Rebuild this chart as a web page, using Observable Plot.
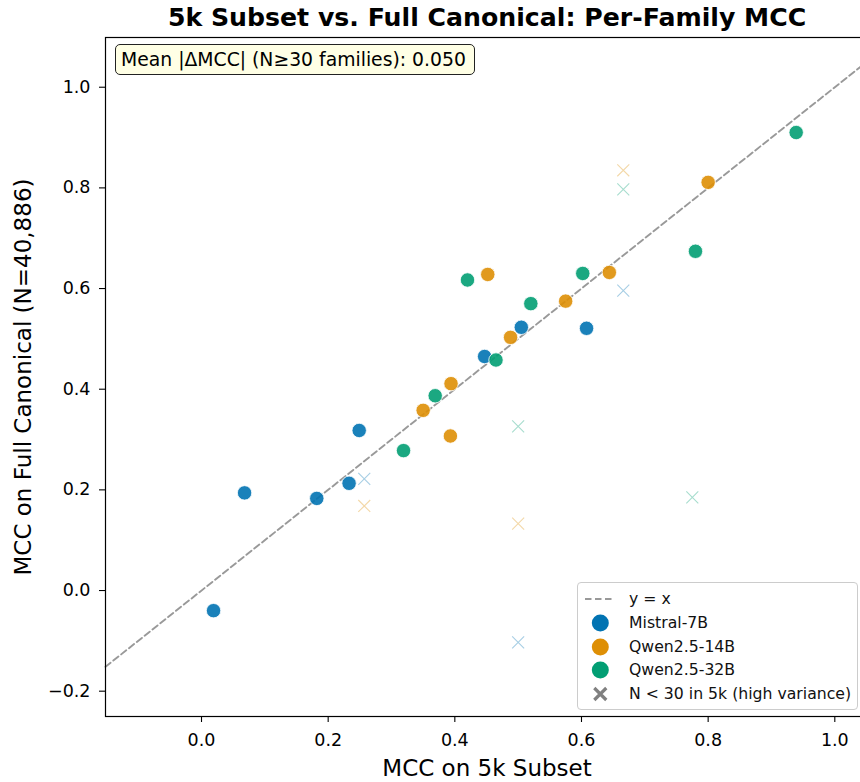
<!DOCTYPE html>
<html>
<head>
<meta charset="utf-8">
<script src="https://cdn.jsdelivr.net/npm/d3@7"></script>
<script src="https://cdn.jsdelivr.net/npm/@observablehq/plot@0.6"></script>
<style>
  html, body { margin: 0; padding: 0; background: white; overflow: hidden; }
  #wrap { position: relative; width: 860px; height: 782px; font-family: "DejaVu Sans", sans-serif; }
  #note { position: absolute; left: 115px; top: 44px; width: 353px; height: 29px;
          background: rgba(255,255,224,0.85); border: 1.3px solid #222; border-radius: 5px;
          font-size: 18.8px; line-height: 29px; padding-left: 5px; box-sizing: content-box; white-space: nowrap; }
  #legend { position: absolute; left: 577px; top: 582px; width: 279px; height: 126px;
            background: rgba(255,255,255,0.8); border: 1px solid #cccccc; border-radius: 4px; font-size: 15.7px; }
  .row { position: absolute; left: 0; height: 24px; width: 279px; }
  .row svg { position: absolute; left: 0; top: 0; }
  .row span { position: absolute; left: 51px; top: 0; line-height: 24px; white-space: nowrap; color: #111; }
</style>
</head>
<body>
<div id="wrap"></div>
<script>
// ---- data ----
const models = ["Mistral-7B", "Qwen2.5-14B", "Qwen2.5-32B"];
const colors = ["#0173B2", "#DE8F05", "#029E73"];

// families with N >= 30 in the 5k subset
const mistralX = [0.019, 0.068, 0.182, 0.233, 0.249, 0.447, 0.505, 0.608];
const mistralY = [-0.040, 0.194, 0.183, 0.213, 0.318, 0.465, 0.523, 0.521];
const qwen14X  = [0.350, 0.394, 0.393, 0.452, 0.488, 0.575, 0.644, 0.800];
const qwen14Y  = [0.358, 0.411, 0.307, 0.628, 0.503, 0.575, 0.632, 0.811];
const qwen32X  = [0.319, 0.369, 0.420, 0.465, 0.520, 0.602, 0.780, 0.939];
const qwen32Y  = [0.278, 0.387, 0.617, 0.458, 0.570, 0.630, 0.674, 0.910];

// families with N < 30 in the 5k subset (high variance)
const mistralLowX = [0.257, 0.666, 0.500];
const mistralLowY = [0.222, 0.596, -0.103];
const qwen14LowX  = [0.257, 0.666, 0.500];
const qwen14LowY  = [0.168, 0.835, 0.133];
const qwen32LowX  = [0.666, 0.500, 0.775];
const qwen32LowY  = [0.797, 0.326, 0.185];

const xTicks = [0.0, 0.2, 0.4, 0.6, 0.8, 1.0];
const yTicks = [-0.2, 0.0, 0.2, 0.4, 0.6, 0.8, 1.0];
const xDomain = [-0.1516, 1.0532];
const yDomain = [-0.2503, 1.0988];

const titleText = "5k Subset vs. Full Canonical: Per-Family MCC";
const xLabel = "MCC on 5k Subset";
const yLabel = "MCC on Full Canonical (N=40,886)";
const noteText = "Mean |ΔMCC| (N≥30 families): 0.050";
const diagLabel = "y = x";
const lowLabel = "N < 30 in 5k (high variance)";

// ---- build tables ----
function rows(model, xs, ys) { return xs.map((x, i) => ({model, x, y: ys[i]})); }
const main = [
  ...rows(models[0], mistralX, mistralY),
  ...rows(models[1], qwen14X, qwen14Y),
  ...rows(models[2], qwen32X, qwen32Y)
];
const low = [
  ...rows(models[0], mistralLowX, mistralLowY),
  ...rows(models[1], qwen14LowX, qwen14LowY),
  ...rows(models[2], qwen32LowX, qwen32LowY)
];

const fmt = d3.format(".1f");

const chart = Plot.plot({
  width: 860,
  height: 782,
  marginLeft: 105,
  marginRight: -8,
  marginTop: 37,
  marginBottom: 66,
  x: {domain: xDomain, axis: null},
  y: {domain: yDomain, axis: null},
  color: {domain: models, range: colors},
  style: {fontFamily: "DejaVu Sans", fontSize: "17.5px", background: "white", overflow: "hidden", color: "black"},
  marks: [
    Plot.line(xDomain, {x: d => d, y: d => d, stroke: "#999999", strokeWidth: 1.9, strokeDasharray: "6.5,3.5"}),
    Plot.dot(low, {x: "x", y: "y", symbol: "times", r: 5.5, stroke: "model", strokeOpacity: 0.35, strokeWidth: 1.1}),
    Plot.dot(main, {x: "x", y: "y", r: 7.2, fill: "model", fillOpacity: 0.9, stroke: "white", strokeWidth: 0.8}),
    Plot.frame({stroke: "black", strokeWidth: 1.2}),
    Plot.axisX({ticks: xTicks, tickSize: 6, tickPadding: 11, tickFormat: fmt, fontSize: 17.5, strokeWidth: 1.1, label: null}),
    Plot.axisY({ticks: yTicks, tickSize: 6, tickPadding: 9, tickFormat: fmt, fontSize: 17.5, strokeWidth: 1.1, label: null}),
    Plot.text([xLabel], {text: d => d, frameAnchor: "bottom", dy: 52, lineAnchor: "middle", fontSize: 23}),
    Plot.text([yLabel], {text: d => d, frameAnchor: "left", textAnchor: "middle", dx: -82, rotate: -90, lineAnchor: "middle", fontSize: 23}),
    Plot.text([titleText], {text: d => d, frameAnchor: "top", dy: -20, lineAnchor: "middle", fontSize: 25.2, fontWeight: "bold"})
  ]
});

const wrap = document.getElementById("wrap");
wrap.appendChild(chart);

// annotation box
const note = document.createElement("div");
note.id = "note";
note.textContent = noteText;
wrap.appendChild(note);

// legend
const legend = document.createElement("div");
legend.id = "legend";
const NS = "http://www.w3.org/2000/svg";
const entries = [
  {type: "line", label: diagLabel},
  ...models.map((m, i) => ({type: "dot", label: m, color: colors[i]})),
  {type: "x", label: lowLabel}
];
entries.forEach((e, i) => {
  const row = document.createElement("div");
  row.className = "row";
  row.style.top = (3.7 + 23.9 * i) + "px";
  const svg = document.createElementNS(NS, "svg");
  svg.setAttribute("width", 50); svg.setAttribute("height", 24);
  if (e.type === "line") {
    const l = document.createElementNS(NS, "line");
    l.setAttribute("x1", 7); l.setAttribute("x2", 37); l.setAttribute("y1", 12); l.setAttribute("y2", 12);
    l.setAttribute("stroke", "#999999"); l.setAttribute("stroke-width", 1.9); l.setAttribute("stroke-dasharray", "6.5,3.5");
    svg.appendChild(l);
  } else if (e.type === "dot") {
    const c = document.createElementNS(NS, "circle");
    c.setAttribute("cx", 22.3); c.setAttribute("cy", 12); c.setAttribute("r", 8.5);
    c.setAttribute("fill", e.color);
    svg.appendChild(c);
  } else {
    const p = document.createElementNS(NS, "path");
    p.setAttribute("d", "M16.3,6L28.3,18M16.3,18L28.3,6");
    p.setAttribute("stroke", "#808080"); p.setAttribute("stroke-width", 3.2);
    svg.appendChild(p);
  }
  row.appendChild(svg);
  const s = document.createElement("span");
  s.textContent = e.label;
  row.appendChild(s);
  legend.appendChild(row);
});
wrap.appendChild(legend);
</script>
</body>
</html>
